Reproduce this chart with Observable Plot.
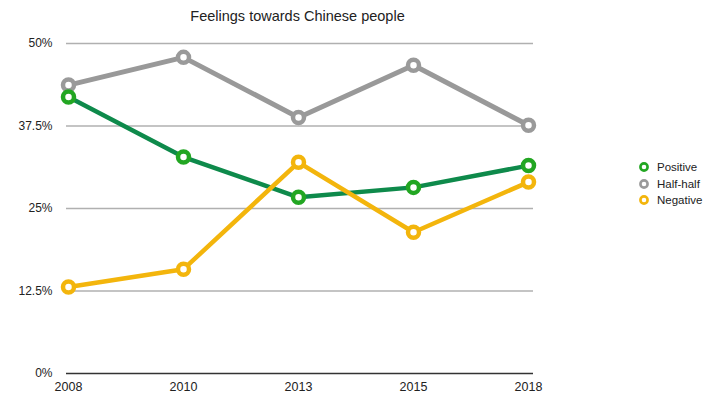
<!DOCTYPE html>
<html>
<head>
<meta charset="utf-8">
<script src="https://cdn.jsdelivr.net/npm/d3@7"></script>
<script src="https://cdn.jsdelivr.net/npm/@observablehq/plot@0.6"></script>
<style>
  html, body { margin: 0; padding: 0; background: #fff; }
  #wrap { position: relative; width: 727px; height: 395px; font-family: "Liberation Sans", Arial, Helvetica, sans-serif; }
  #title { position: absolute; left: 66px; width: 463px; top: 8px; text-align: center; font-size: 14.5px; color: #222; }
  #legend { position: absolute; left: 638px; top: 159px; font-size: 11.5px; color: #222; }
  .row { display: flex; align-items: center; height: 16.5px; }
  .row svg { margin-right: 7px; }
</style>
</head>
<body>
<div id="wrap">
  <div id="chart"></div>
  <div id="title">Feelings towards Chinese people</div>
  <div id="legend"></div>
</div>
<script>
const title = "Feelings towards Chinese people";
const years = ["2008", "2010", "2013", "2015", "2018"];
const seriesNames = ["Positive", "Half-half", "Negative"];
const positive = [41.9, 32.8, 26.7, 28.2, 31.5];
const halfHalf = [43.7, 47.9, 38.8, 46.7, 37.6];
const negative = [13.1, 15.8, 32.0, 21.4, 29.0];
const yTicks = [0, 12.5, 25, 37.5, 50];

const lineColors = {"Positive": "#0e8a4b", "Half-half": "#999999", "Negative": "#f3b50c"};
const dotColors = {"Positive": "#22a622", "Half-half": "#9a9a9a", "Negative": "#f3b50c"};

const rows = (vals) => years.map((y, i) => ({year: y, value: vals[i]}));
const data = {"Positive": rows(positive), "Half-half": rows(halfHalf), "Negative": rows(negative)};
const drawOrder = ["Half-half", "Positive", "Negative"];

const marks = [
  Plot.ruleY(yTicks.filter(d => d !== 0), {stroke: "#b0b0b0", strokeWidth: 1.5, insetRight: -4}),
  Plot.ruleY([0], {stroke: "#333", strokeWidth: 1.5, insetRight: -4}),
  Plot.axisY({ticks: yTicks, tickFormat: d => d + "%", tickSize: 0, tickPadding: 14, fontSize: 12, fill: "#222"}),
  Plot.axisX({tickSize: 0, tickPadding: 9, fontSize: 12.5, fill: "#222"})
];
for (const name of drawOrder) {
  marks.push(Plot.line(data[name], {x: "year", y: "value", stroke: lineColors[name], strokeWidth: name === "Half-half" ? 5 : 4.5}));
  marks.push(Plot.dot(data[name], {x: "year", y: "value", r: 5.5, stroke: dotColors[name], strokeWidth: 4.5, fill: "white"}));
}

const chart = Plot.plot({
  width: 727,
  height: 395,
  marginTop: 43,
  marginBottom: 22,
  marginLeft: 66,
  marginRight: 198,
  style: {fontFamily: '"Liberation Sans", Arial, Helvetica, sans-serif', background: "white"},
  x: {type: "point", domain: years, padding: 0, label: null},
  y: {domain: [0, 50], label: null},
  marks
});
document.getElementById("chart").appendChild(chart);

const legend = document.getElementById("legend");
for (const name of seriesNames) {
  const row = document.createElement("div");
  row.className = "row";
  row.innerHTML = `<svg width="12" height="12"><circle cx="6" cy="6" r="3.6" fill="white" stroke="${dotColors[name]}" stroke-width="2.6"/></svg><span>${name}</span>`;
  legend.appendChild(row);
}
</script>
</body>
</html>
